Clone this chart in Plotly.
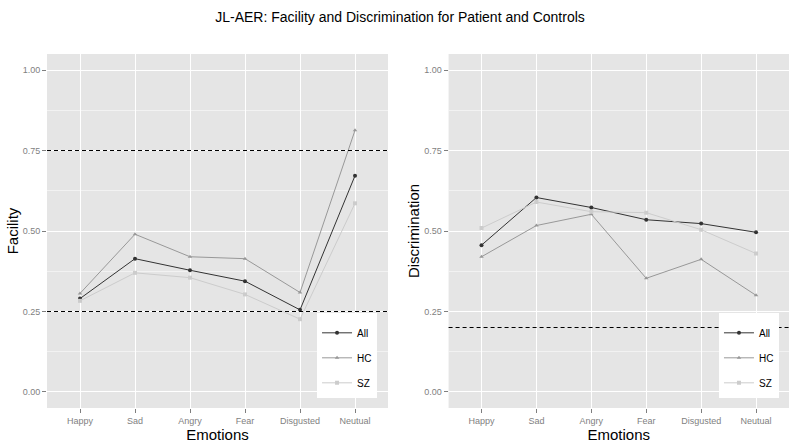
import plotly.graph_objects as go
from plotly.subplots import make_subplots

emotions = ["Happy", "Sad", "Angry", "Fear", "Disgusted", "Neutual"]
groups = ["All", "HC", "SZ"]

facility_all = [0.290, 0.414, 0.378, 0.344, 0.255, 0.672]
facility_hc = [0.306, 0.490, 0.420, 0.414, 0.309, 0.813]
facility_sz = [0.283, 0.370, 0.355, 0.303, 0.226, 0.586]

discrim_all = [0.456, 0.604, 0.573, 0.535, 0.523, 0.496]
discrim_hc = [0.420, 0.517, 0.552, 0.353, 0.412, 0.300]
discrim_sz = [0.509, 0.590, 0.560, 0.557, 0.504, 0.430]

facility_refs = [0.75, 0.25]
discrim_refs = [0.20]

colors = {"All": "#333333", "HC": "#989898", "SZ": "#CCCCCC"}
symbols = {"All": "circle", "HC": "triangle-up", "SZ": "square"}

fig = make_subplots(rows=1, cols=2, horizontal_spacing=0.0816)
fig.update_xaxes(domain=[0, 0.4596], row=1, col=1)
fig.update_xaxes(domain=[0.5412, 1.0], row=1, col=2)

facility = {"All": facility_all, "HC": facility_hc, "SZ": facility_sz}
discrim = {"All": discrim_all, "HC": discrim_hc, "SZ": discrim_sz}

for col, data, leg in [(1, facility, "legend"), (2, discrim, "legend2")]:
    for g in groups:
        fig.add_trace(go.Scatter(
            x=emotions, y=data[g], name=g, mode="lines+markers",
            line=dict(color=colors[g], width=1),
            marker=dict(symbol=symbols[g], size=4, color=colors[g]),
            legend=leg, legendgroup=g + leg,
        ), row=1, col=col)

for v in facility_refs:
    fig.add_hline(y=v, line=dict(color="black", width=1.1, dash="4px,3px"), row=1, col=1)
for v in discrim_refs:
    fig.add_hline(y=v, line=dict(color="black", width=1.1, dash="4px,3px"), row=1, col=2)

tickfont = dict(family="Liberation Sans, Arial, sans-serif", size=9, color="#7F7F7F")
titlefont = dict(family="Liberation Sans, Arial, sans-serif", size=15, color="black")

fig.update_xaxes(
    showgrid=True, gridcolor="white", gridwidth=1.1,
    ticks="outside", ticklen=4, tickcolor="#7F7F7F", tickfont=tickfont,
    zeroline=False, showline=False, range=[-0.6, 5.6], automargin=False,
    title=dict(text="Emotions", font=titlefont, standoff=0),
)
fig.update_yaxes(
    range=[-0.05, 1.05], tickvals=[0, 0.25, 0.5, 0.75, 1.0],
    ticktext=["0.00", "0.25", "0.50", "0.75", "1.00"],
    showgrid=True, gridcolor="white", gridwidth=1.1,
    minor=dict(tickvals=[0.125, 0.375, 0.625, 0.875], showgrid=True, gridcolor="#F2F2F2", gridwidth=0.6),
    ticks="outside", ticklen=4, tickcolor="#7F7F7F", tickfont=tickfont,
    zeroline=False, showline=False, automargin=False,
)
fig.update_yaxes(title=dict(text="Facility", font=titlefont, standoff=0), row=1, col=1)
fig.update_yaxes(title=dict(text="Discrimination", font=titlefont, standoff=0), row=1, col=2)

legend_style = dict(
    bgcolor="white", borderwidth=0,
    font=dict(family="Liberation Sans, Arial, sans-serif", size=10, color="black"),
    title=dict(text=" ", font=dict(size=4)),
    tracegroupgap=6, itemwidth=30, xanchor="right", yanchor="top",
)
fig.update_layout(
    legend=dict(x=0.4448, y=0.268, **legend_style),
    legend2=dict(x=0.9865, y=0.268, **legend_style),
)

fig.update_layout(
    width=800, height=445,
    margin=dict(l=47, r=11, t=54, b=37),
    paper_bgcolor="white", plot_bgcolor="#E5E5E5",
    title=dict(text="JL-AER: Facility and Discrimination for Patient and Controls",
               x=0.5, xanchor="center", y=1 - 17 / 445, yanchor="middle", yref="container",
               font=dict(family="Liberation Sans, Arial, sans-serif", size=14, color="black")),
)

fig.write_html("out.html", config={"displayModeBar": False},
               post_script="document.body.style.margin='0';")
